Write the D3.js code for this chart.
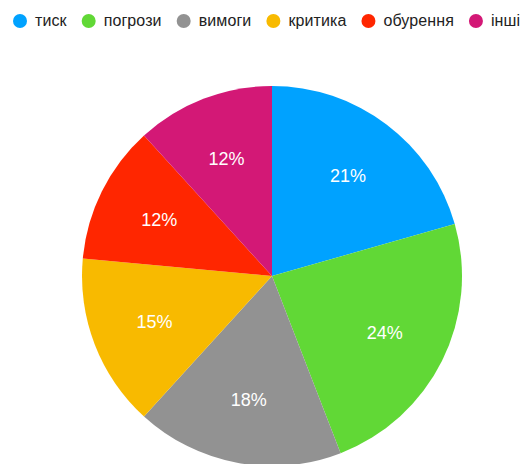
<!DOCTYPE html>
<html>
<head>
<meta charset="utf-8">
<script src="https://cdn.jsdelivr.net/npm/d3@7"></script>
<style>
  html, body { margin: 0; padding: 0; background: #fff; }
  svg { display: block; }
  text { font-family: "Liberation Sans", Arial, Helvetica, sans-serif; }
</style>
</head>
<body>
<svg id="chart" width="530" height="464"></svg>
<script>
// Категорії та їхні частки (у відсотках)
const categories = ["тиск", "погрози", "вимоги", "критика", "обурення", "інші"];
const values = [21, 24, 18, 15, 12, 12];
const colors = ["#00A2FF", "#61D836", "#929292", "#F8BA00", "#FF2600", "#D31876"];

const svg = d3.select("#chart");

const color = d3.scaleOrdinal().domain(categories).range(colors);

// Legend row across the top
const legend = svg.append("g").attr("class", "legend");
let cursor = 20;
categories.forEach((c) => {
  const item = legend.append("g");
  item.append("circle")
    .attr("cx", cursor).attr("cy", 21).attr("r", 7)
    .attr("fill", color(c));
  const t = item.append("text")
    .attr("x", cursor + 15).attr("y", 25.5)
    .attr("font-size", 16).attr("letter-spacing", 0.1).attr("fill", "#222")
    .text(c);
  const w = t.node().getComputedTextLength();
  cursor = cursor + 15 + w + 22;
});

// Pie
const cx = 272, cy = 276, R = 190, labelR = 126;
const pie = d3.pie().sort(null).value((d, i) => values[i]);
const arcs = pie(categories);
const arc = d3.arc().innerRadius(0).outerRadius(R);
const labelArc = d3.arc().innerRadius(labelR).outerRadius(labelR);

const g = svg.append("g").attr("transform", `translate(${cx},${cy})`);

g.selectAll("path.slice")
  .data(arcs)
  .join("path")
  .attr("class", "slice")
  .attr("d", arc)
  .attr("fill", d => color(d.data));

g.selectAll("text.pct")
  .data(arcs)
  .join("text")
  .attr("class", "pct")
  .attr("transform", d => `translate(${labelArc.centroid(d)})`)
  .attr("text-anchor", "middle")
  .attr("dy", "0.36em")
  .attr("font-size", 18)
  .attr("fill", "#fff")
  .text((d, i) => values[i] + "%");
</script>
</body>
</html>
